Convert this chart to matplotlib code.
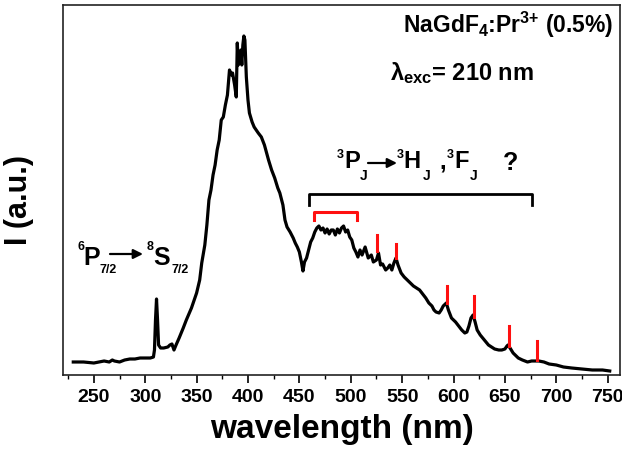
import matplotlib
matplotlib.use("Agg")
import matplotlib.pyplot as plt
import numpy as np

plt.rcParams['font.family'] = ['Liberation Sans', 'DejaVu Sans']
plt.rcParams['font.weight'] = 'bold'
plt.rcParams['mathtext.fontset'] = 'custom'
plt.rcParams['mathtext.rm'] = 'Liberation Sans:bold'
plt.rcParams['mathtext.it'] = 'Liberation Sans:bold'
plt.rcParams['mathtext.bf'] = 'Liberation Sans:bold'

# Emission spectrum (wavelength nm, intensity a.u.)
wavelength = [230, 240, 250, 255, 260, 265, 268, 270, 275, 280, 285, 290, 295, 300, 305, 308,
              309, 310, 311, 312, 313, 315, 318, 322, 324, 326, 328, 330, 333, 337, 340, 345,
              350, 353, 355, 358, 360, 362, 364, 366, 368, 370, 372, 374, 376, 378, 380, 382,
              384, 385, 387, 388.6, 389.6, 390.5, 391.8, 393, 394, 395, 396, 397, 398.4, 400,
              401.4, 404, 406, 410, 413, 416, 420, 423, 426, 429, 431, 434, 436, 438, 441, 444,
              446, 448, 450, 452, 453.5, 455, 457, 459, 461, 463, 465, 467, 469, 471, 473, 475,
              477, 479, 481, 483, 485, 487, 489, 491, 493, 495, 497, 499, 501, 503, 505, 507,
              509, 511, 514, 517, 520, 522, 525, 527, 529, 531, 534, 536, 538, 540, 542, 544,
              546, 549, 552, 555, 558, 561, 564, 567, 570, 573, 576, 579, 581, 583, 586, 588,
              590, 593, 595, 598, 602, 605, 608, 611, 613, 615, 617, 619, 621, 623, 626, 630,
              634, 637, 640, 644, 647, 650, 652, 653, 655, 658, 661, 663, 667, 672, 676, 680,
              683, 688, 693, 700, 707, 715, 725, 735, 745, 752]
ypix = [362, 362, 363, 362, 361, 362, 360, 361, 362, 360, 359, 359, 358, 358, 358, 357,
        350, 320, 299, 320, 345, 348, 348, 347, 345, 344, 350, 345, 338, 328, 320, 308,
        293, 280, 263, 245, 225, 200, 190, 175, 165, 150, 140, 120, 117, 105, 95, 70,
        75, 73, 85, 97, 43, 65, 63, 50, 65, 45, 36, 40, 77, 100,
        113, 122, 127, 133, 137, 145, 160, 170, 178, 188, 193, 205, 220, 227, 232, 238,
        243, 247, 252, 262, 271, 262, 258, 250, 242, 238, 232, 228, 226, 230, 228, 233,
        229, 234, 230, 230, 235, 229, 233, 228, 226, 232, 230, 237, 240, 248, 252, 257,
        250, 255, 247, 258, 255, 262, 260, 253, 265, 264, 270, 268, 265, 270, 263, 258,
        265, 273, 277, 280, 283, 286, 288, 290, 294, 298, 303, 306, 310, 312, 313, 310,
        306, 303, 310, 318, 322, 326, 330, 333, 332, 326, 318, 315, 322, 330, 335, 340,
        345, 347, 349, 350, 350, 349, 346, 345, 348, 353, 356, 358, 360, 362, 361, 361,
        361, 362, 364, 365, 367, 368, 369, 370, 370, 371]
intensity = [375 - v for v in ypix]

# Red markers: bracket (x range, y) and single lines (x, y0, y1)
red_bracket_x = [464, 506]
red_bracket_y = [163, 155]
red_lines_x = [526, 544, 594, 620, 654, 681]
red_lines_lo = [124, 117, 72, 58, 29, 15]
red_lines_hi = [140, 131, 89, 79, 49, 34]
# Black bracket
black_bracket_x = [459, 676]
black_bracket_y = [170, 181]

W, H = 622, 455
fig = plt.figure(figsize=(W / 100, H / 100), dpi=100)
ax = fig.add_axes([63 / W, 1 - 375 / H, 557 / W, 370 / H])

ax.plot(wavelength, intensity, color='black', lw=2.3, solid_joinstyle='round')

# brackets
bx0, bx1 = black_bracket_x
by_bot, by_top = black_bracket_y
ax.plot([bx0, bx0, bx1, bx1], [by_bot, by_top, by_top, by_bot], color='black', lw=2.0)
rx0, rx1 = red_bracket_x
ry_top, ry_bot = red_bracket_y
ax.plot([rx0, rx0, rx1, rx1], [ry_bot, ry_top, ry_top, ry_bot], color='#ff1010', lw=2.2)
for x, lo, hi in zip(red_lines_x, red_lines_lo, red_lines_hi):
    ax.plot([x, x], [lo, hi], color='#ff1010', lw=2.2)

ax.set_xlim(220, 762)
ax.set_ylim(0, 370)
ax.set_yticks([])
ax.set_xticks(np.arange(250, 751, 50))
ax.set_xticks(np.arange(225, 761, 25), minor=True)
ax.tick_params(axis='x', which='major', direction='out', length=6, width=1.2,
               labelsize=14, pad=4, top=False)
ax.tick_params(axis='x', which='minor', direction='out', length=3, width=1.0, top=False)
for lab in ax.get_xticklabels():
    lab.set_fontweight('bold')
for s in ax.spines.values():
    s.set_linewidth(1.2)
    s.set_color('#222222')

ax.set_xlabel('wavelength (nm)', fontsize=24, fontweight='bold', labelpad=6)
ax.set_ylabel('I (a.u.)', fontsize=22, fontweight='bold')
ax.yaxis.set_label_coords(-29 / 557, 1 - 195 / 370)


def ftext(x, y, s, size, **kw):
    fig.text(x / W, 1 - y / H, s, fontsize=size, fontweight='bold', va='baseline', **kw)


def farrow(x0, x1, y):
    ax.annotate('', xy=(x1 / W, 1 - y / H), xytext=(x0 / W, 1 - y / H),
                xycoords='figure fraction', textcoords='figure fraction',
                arrowprops=dict(arrowstyle='-|>', color='black', lw=1.6,
                                mutation_scale=14, shrinkA=0, shrinkB=0))


# top-right labels
ftext(613, 33, r'NaGdF$_4$:Pr$^{3{+}}$ (0.5%)', 16.5, ha='right')
ftext(390, 80, r'λ$_{exc}$= 210 nm', 17, ha='left')

# 3PJ -> 3HJ, 3FJ ?
ftext(337, 158, '3', 9)
ftext(344, 168, 'P', 17)
ftext(360, 180, 'J', 10)
farrow(368, 397, 163)
ftext(397, 158, '3', 9)
ftext(403, 168, 'H', 17)
ftext(423, 180, 'J', 10)
ftext(439, 168, ',', 17)
ftext(447, 158, '3', 9)
ftext(454, 168, 'F', 17)
ftext(470, 180, 'J', 10)
ftext(503, 170, '?', 18)

# 6P7/2 -> 8S7/2
ftext(77, 250, '6', 9)
ftext(83, 265, 'P', 18)
ftext(100, 273, '7/2', 9)
farrow(110, 143, 254)
ftext(147, 250, '8', 9)
ftext(153, 265, 'S', 18)
ftext(172, 273, '7/2', 9)

fig.savefig('out.png', dpi=100)
